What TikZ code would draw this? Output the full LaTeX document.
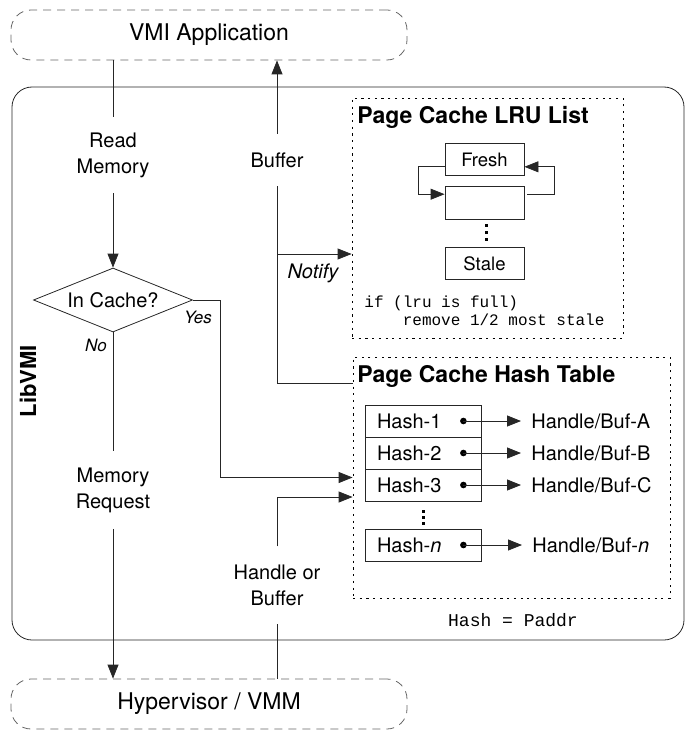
\documentclass[tikz,border=0pt]{standalone}
\usepackage{fontspec}
\setmainfont{TeX Gyre Heros}
\setmonofont{Liberation Mono}
\usetikzlibrary{arrows.meta,shapes.geometric}
\newcommand\myfs[2]{\fontsize{#1}{#2}\selectfont}
\begin{document}
\begin{tikzpicture}[x=1pt,y=-1pt,
  line width=0.8pt, draw=black!85,
  arr/.style={-{Triangle[length=14pt,width=11pt]}},
  ext/.style={draw=black!60, dash pattern=on 8pt off 6pt, rounded corners=20pt,
    minimum width=396pt, minimum height=50pt, font=\myfs{23}{28}},
  lbl/.style={align=center, font=\myfs{20}{26}},
  ital/.style={font=\itshape\myfs{20}{24}},
  yn/.style={font=\itshape\myfs{17}{20}},
  dotbox/.style={draw=black, dash pattern=on 2.2pt off 4.5pt},
  title/.style={anchor=west, font=\bfseries\myfs{23}{26}, inner sep=0pt},
  lrubox/.style={draw, minimum width=79pt, minimum height=32.5pt, font=\myfs{18.5}{22}, inner sep=0pt},
  row/.style={draw, minimum height=32pt, inner xsep=12pt, text width=92pt, align=left,
    font=\myfs{20}{24}, inner ysep=0pt},
  tgt/.style={anchor=west, inner xsep=10pt, font=\myfs{20}{24}},
  code/.style={font=\ttfamily\myfs{16}{18}, align=left, anchor=west, inner sep=0pt},
  vdot/.style={fill=black}
]
\useasboundingbox (0,0) rectangle (687,730);

% external boxes
\node[ext] (vmi) at (209,35) {VMI Application};
\node[ext] (hyp) at (209,704) {Hypervisor / VMM};

% LibVMI frame
\node[draw, rounded corners=20pt, minimum width=672pt, minimum height=553pt, inner sep=0pt] (lib) at (348,363.5) {};
\node[rotate=90, font=\bfseries\myfs{22}{26}] (libl) at (28,381) {LibVMI};

% left flow
\node[lbl, inner ysep=15.5pt] (rm) at (113,155) {Read\\Memory};
\node[diamond, draw, shape aspect=2.48, minimum width=159pt, minimum height=64pt, inner sep=0pt, font=\myfs{20}{24}] (cache) at (113,300) {In Cache?};
\node[lbl, inner ysep=16pt] (mr) at (113,490) {Memory\\Request};
\node[yn] (yes) at (198,317) {Yes};
\node[yn] (no) at (96,345) {No};

\draw (rm |- vmi.south) -- (rm.north);
\draw[arr] (rm.south) -- (cache.north);
\draw (cache.south) -- (mr.north);
\draw[arr] (mr.south) -- (mr |- hyp.north);

% middle flow
\node[lbl, inner ysep=18.5pt] (buf) at (277,160) {Buffer};
\node[lbl, inner ysep=17.8pt] (hb) at (277,585) {Handle or\\Buffer};
\node[ital] (notify) at (313,273) {Notify};

% LRU list
\node[dotbox, minimum width=271pt, minimum height=240pt, inner sep=0pt] (lru) at (487.5,218) {};
\node[title] (lrut) at (357,117) {Page Cache LRU List};
\node[lrubox] (fresh) at (484.5,159.5) {Fresh};
\node[lrubox] (blank) at (484.5,203) {};
\node[lrubox] (stale) at (484.5,263.5) {Stale};
\fill[vdot] (484.8,223.5) rectangle (487.8,227);
\fill[vdot] (484.8,230.5) rectangle (487.8,234);
\fill[vdot] (484.8,237.5) rectangle (487.8,241);
\draw[arr] ([yshift=-7.3pt]fresh.west) -- ++(-26,0) |- ([yshift=8.8pt]blank.west);
\draw[arr] ([xshift=3pt,yshift=8.8pt]blank.east) -- ++(27,0) |- ([yshift=-7.3pt]fresh.east);
\node[code] (lrucode) at (364,311) {if (lru is full)\\\hspace*{2.4em}remove 1/2 most stale};

% Hash table
\node[dotbox, minimum width=317pt, minimum height=241pt, inner sep=0pt] (ht) at (511.5,477.5) {};
\node[title] (htt) at (357,376) {Page Cache Hash Table};
\node[row] (h1) at (423,421) {Hash-1};
\node[row] (h2) at (423,453) {Hash-2};
\node[row] (h3) at (423,485) {Hash-3};
\node[row] (hn) at (423,545) {Hash-\textit{n}};
\fill[vdot] (421.5,509.5) rectangle (424.5,513);
\fill[vdot] (421.5,515.5) rectangle (424.5,519);
\fill[vdot] (421.5,521.5) rectangle (424.5,525);
\node[tgt] (t1) at (521,421) {Handle/Buf-A};
\node[tgt] (t2) at (521,453) {Handle/Buf-B};
\node[tgt] (t3) at (521,485) {Handle/Buf-C};
\node[tgt] (tn) at (522,545) {Handle/Buf-\textit{n}};
\foreach \r/\t in {h1/t1,h2/t2,h3/t3,hn/tn}{
  \fill ([xshift=-18pt]\r.east) circle (3.3pt);
  \draw[arr] ([xshift=-18pt]\r.east) -- (\t.west);
}
\node[font=\ttfamily\myfs{18}{20}] (hp) at (513,620) {Hash = Paddr};

% connectors to the tables
\draw[arr] (cache.east) -- ++(27,0) |- (ht.west);
\draw (hb |- hyp.north) -- (hb.south);
\draw[arr] (hb.north) |- ([yshift=-19.5pt]ht.west);
\draw ([yshift=94.5pt]ht.west) -| (buf.south);
\draw[arr] (buf.north) -- (buf |- vmi.south);
\coordinate (nt) at ([yshift=-36pt]lru.west);
\draw[arr] (buf |- nt) -- (nt);
\end{tikzpicture}
\end{document}
